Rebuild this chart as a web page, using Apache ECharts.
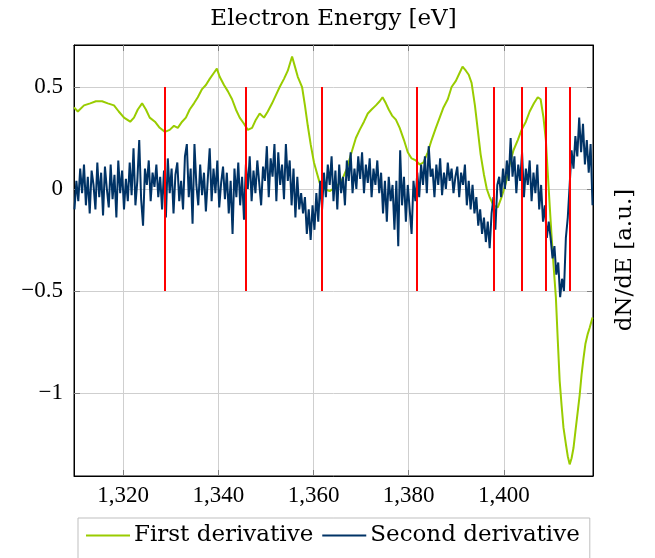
<!DOCTYPE html>
<html><head><meta charset="utf-8">
<script src="https://cdn.jsdelivr.net/npm/echarts@6/dist/echarts.min.js"></script>
<style>html,body{margin:0;padding:0;background:#fff}#c{width:655px;height:558px}</style>
</head><body><div id="c"></div>
<script>
const xTicks = [1320, 1340, 1360, 1380, 1400];
const yTicks = [-1, -0.5, 0, 0.5];

const firstEnergy = [1309.7,1310.5,1311.8,1313.1,1314.3,1315.6,1316.8,1318.1,1319.1,1320.2,
1321.5,1322.3,1323.1,1324.0,1324.8,1325.6,1326.7,1327.7,1328.8,1329.8,
1330.7,1331.5,1332.4,1333.2,1334.0,1334.9,1335.7,1336.6,1337.4,1338.2,
1339.1,1339.7,1340.3,1341.2,1342.0,1342.9,1343.7,1344.5,1345.4,1346.2,
1347.1,1347.9,1348.7,1349.6,1350.4,1351.3,1352.1,1352.9,1353.8,1354.6,
1355.5,1356.1,1356.7,1357.6,1358.2,1358.8,1359.4,1360.1,1360.7,1361.3,
1362.2,1363.4,1364.7,1365.9,1367.0,1368.0,1368.9,1369.7,1370.6,1371.4,
1372.2,1373.1,1373.9,1374.5,1375.2,1375.8,1376.5,1377.3,1378.1,1379.0,
1379.8,1380.6,1381.5,1382.3,1383.1,1384.0,1384.8,1385.7,1386.5,1387.3,
1388.2,1389.0,1389.9,1390.7,1391.3,1392.0,1392.6,1393.2,1393.9,1394.5,
1395.1,1395.8,1396.4,1397.0,1397.8,1398.7,1399.5,1400.4,1401.2,1402.0,
1402.9,1403.7,1404.6,1405.4,1406.3,1407.1,1407.7,1408.3,1408.8,1409.2,
1409.6,1410.0,1410.4,1410.9,1411.3,1411.7,1412.1,1412.5,1413.0,1413.4,
1413.8,1414.2,1414.6,1415.0,1415.5,1415.9,1416.3,1416.7,1417.1,1417.6,
1418.0,1418.6];
const firstValues = [0.40,0.38,0.41,0.42,0.43,0.43,0.42,0.41,0.38,0.35,
0.33,0.35,0.39,0.42,0.39,0.35,0.33,0.30,0.28,0.29,
0.31,0.30,0.33,0.35,0.39,0.42,0.45,0.49,0.51,0.54,
0.57,0.59,0.55,0.51,0.48,0.44,0.39,0.35,0.32,0.29,
0.30,0.34,0.37,0.35,0.38,0.42,0.46,0.50,0.54,0.58,
0.65,0.60,0.55,0.50,0.41,0.31,0.22,0.13,0.08,0.03,
0.00,-0.01,0.01,0.04,0.10,0.18,0.25,0.29,0.33,0.37,
0.39,0.41,0.43,0.45,0.42,0.39,0.36,0.34,0.30,0.24,
0.18,0.15,0.14,0.12,0.13,0.18,0.24,0.30,0.35,0.40,
0.44,0.50,0.53,0.57,0.60,0.58,0.56,0.52,0.41,0.29,
0.17,0.07,0.00,-0.04,-0.08,-0.09,-0.04,0.03,0.12,0.19,
0.24,0.29,0.33,0.38,0.42,0.45,0.44,0.35,0.24,0.08,
-0.08,-0.23,-0.37,-0.53,-0.74,-0.94,-1.06,-1.17,-1.25,-1.31,
-1.35,-1.32,-1.27,-1.19,-1.09,-1.01,-0.91,-0.83,-0.76,-0.71,
-0.68,-0.63];

// second derivative sampled every 0.4 eV from 1309.8 eV
const secondStart = 1309.8;
const secondStep = 0.4;
const secondValues = [
-0.10,0.04,-0.06,0.10,-0.02,0.12,-0.08,0.06,-0.12,0.09,
0.02,-0.10,0.13,-0.04,0.08,-0.13,0.11,0.00,-0.09,0.12,
-0.05,0.07,-0.14,0.14,-0.02,0.09,-0.10,0.05,-0.06,0.13,
-0.03,0.20,-0.08,0.04,0.24,-0.05,-0.18,0.10,0.02,0.14,
-0.06,0.08,0.01,0.12,-0.04,0.06,-0.10,0.09,-0.14,0.15,
-0.02,0.10,-0.12,0.07,0.13,-0.06,0.04,-0.10,0.16,0.22,
-0.04,0.10,-0.17,0.22,0.02,-0.08,0.12,-0.03,0.08,-0.11,
0.05,0.20,-0.06,0.10,-0.02,0.14,-0.09,0.03,0.11,-0.05,
0.08,-0.12,0.04,-0.22,0.10,-0.04,0.13,-0.08,0.06,-0.15,
0.12,0.00,0.16,-0.06,0.09,-0.02,0.14,0.03,-0.08,0.11,
0.04,0.21,-0.04,0.15,0.06,0.22,-0.06,0.18,0.02,0.12,
-0.05,0.22,0.04,0.14,-0.08,0.10,-0.14,0.06,-0.10,-0.02,
-0.12,-0.04,-0.22,-0.10,-0.25,-0.08,-0.20,-0.02,-0.16,0.04,
-0.10,0.08,-0.04,0.12,0.02,0.16,-0.06,0.09,-0.10,0.12,
-0.02,0.06,-0.08,0.14,0.04,0.18,-0.02,0.10,0.00,0.16,
0.05,0.18,-0.02,0.12,0.03,0.15,-0.04,0.10,0.02,0.14,
-0.02,0.08,-0.12,0.04,-0.16,0.06,-0.06,0.02,-0.20,0.04,
-0.28,0.19,-0.08,0.06,-0.16,0.02,-0.10,-0.22,0.04,-0.06,
0.08,-0.04,0.12,0.02,0.16,-0.02,0.21,0.06,0.10,-0.04,
0.12,0.02,0.15,-0.03,0.08,0.00,0.13,0.04,0.10,-0.02,
0.06,0.11,-0.04,0.08,0.02,0.12,-0.08,0.04,-0.10,0.02,
-0.12,-0.04,-0.18,-0.10,-0.22,-0.14,-0.26,-0.16,-0.29,-0.12,
-0.04,-0.20,0.02,0.06,-0.04,0.10,0.00,0.14,0.04,0.25,
0.06,0.16,-0.02,0.12,0.04,0.18,-0.04,0.10,0.02,0.14,
-0.06,0.08,-0.02,0.12,-0.10,0.02,-0.16,-0.08,-0.24,-0.16,
-0.24,-0.34,-0.28,-0.42,-0.36,-0.53,-0.44,-0.50,-0.24,-0.14,
0.02,0.19,0.10,0.26,0.16,0.35,0.18,0.32,0.12,0.24,
0.08,0.22,-0.08];

const peakEnergies = [1328.8, 1345.8, 1361.7, 1381.7, 1397.8, 1403.7, 1408.8, 1413.8];
const peakLow = -0.5, peakHigh = 0.5;

const X_MIN = 1309.7, X_MAX = 1418.7, Y_MIN = -1.407, Y_MAX = 0.706;
const numFont = 'Liberation Serif';
const txtFont = 'DejaVu Serif';

const firstData = firstEnergy.map((e, i) => [e, firstValues[i]]);
const secondData = secondValues.map((v, i) => [+(secondStart + i * secondStep).toFixed(2), v]);

function fmtX(v) { return String(v).replace(/^(\d)(\d{3})$/, '$1,$2'); }
function fmtY(v) { return v === 0 ? '0' : (v < 0 ? '\u2212' : '') + Math.abs(v); }

const chart = echarts.init(document.getElementById('c'), null, {renderer: 'canvas'});
const tickStyle = {show: true, inside: true, length: 6, lineStyle: {color: '#808080', width: 1}};
chart.setOption({
  animation: false,
  backgroundColor: '#fff',
  grid: {left: 74, top: 45, width: 519, height: 431, show: true, borderColor: '#000', borderWidth: 1, backgroundColor: 'transparent'},
  xAxis: [{
    type: 'value', min: X_MIN, max: X_MAX, position: 'bottom',
    axisLine: {show: true, onZero: false, lineStyle: {color: '#000', width: 1}},
    axisTick: Object.assign({customValues: xTicks}, tickStyle),
    axisLabel: {customValues: xTicks, formatter: fmtX, color: '#000', fontFamily: numFont, fontSize: 23, margin: 8},
    splitLine: {show: true, lineStyle: {color: '#cfcfcf', width: 1}}
  }, {
    type: 'value', min: X_MIN, max: X_MAX, position: 'top',
    axisLine: {show: true, onZero: false, lineStyle: {color: '#000'}},
    axisTick: Object.assign({customValues: xTicks}, tickStyle),
    axisLabel: {show: false}, splitLine: {show: false}
  }],
  yAxis: [{
    type: 'value', min: Y_MIN, max: Y_MAX, position: 'left',
    axisLine: {show: true, onZero: false, lineStyle: {color: '#000', width: 1}},
    axisTick: Object.assign({customValues: yTicks}, tickStyle),
    axisLabel: {customValues: yTicks, formatter: fmtY, color: '#000', fontFamily: numFont, fontSize: 23, margin: 11},
    splitLine: {show: true, lineStyle: {color: '#cfcfcf', width: 1}}
  }, {
    type: 'value', min: Y_MIN, max: Y_MAX, position: 'right',
    axisLine: {show: true, onZero: false, lineStyle: {color: '#000'}},
    axisTick: Object.assign({customValues: yTicks}, tickStyle),
    axisLabel: {show: false}, splitLine: {show: false}
  }],
  legend: {
    data: ['First derivative', 'Second derivative'],
    left: 78, top: 518, orient: 'horizontal',
    backgroundColor: '#fff', borderColor: '#bfbfbf', borderWidth: 1,
    padding: [6, 10, 30, 8], icon: 'rect', itemWidth: 44, itemHeight: 2, itemGap: 9,
    textStyle: {color: '#000', fontFamily: txtFont, fontSize: 23, padding: [0, 0, 0, -1]}
  },
  graphic: [
    {type: 'text', x: 333.5, y: 19, style: {text: 'Electron Energy [eV]', fill: '#000', font: '23px "' + txtFont + '"', align: 'center', verticalAlign: 'middle'}},
    {type: 'text', x: 625, y: 260, rotation: Math.PI / 2, style: {text: 'dN/dE [a.u.]', fill: '#000', font: '23px "' + txtFont + '"', align: 'center', verticalAlign: 'middle'}}
  ],
  series: [
    {name: 'First derivative', type: 'line', data: firstData, symbol: 'none', z: 2,
     color: '#99cc00', lineStyle: {color: '#99cc00', width: 2}},
    {name: 'Second derivative', type: 'line', data: secondData, symbol: 'none', z: 3,
     color: '#003366', lineStyle: {color: '#003366', width: 2}},
    {name: 'peaks', type: 'line', data: [], symbol: 'none', z: 4,
     markLine: {silent: true, symbol: 'none', label: {show: false},
       lineStyle: {color: '#ff0000', width: 2, type: 'solid'},
       data: peakEnergies.map(e => [{coord: [e, peakLow]}, {coord: [e, peakHigh]}])}}
  ]
});
</script></body></html>
